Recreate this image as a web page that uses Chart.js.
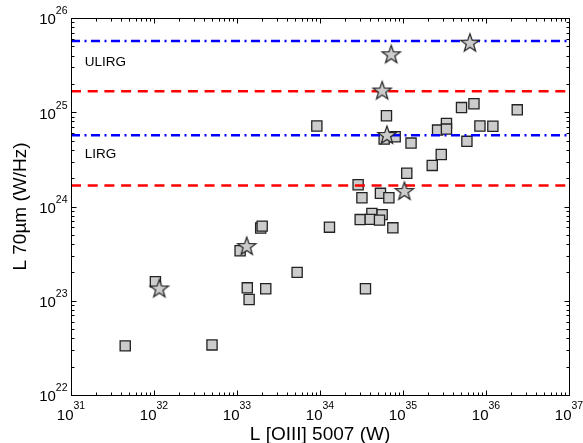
<!DOCTYPE html>
<html><head><meta charset="utf-8">
<script src="https://cdn.jsdelivr.net/npm/chart.js@4.4.1/dist/chart.umd.min.js"></script>
<style>html,body{margin:0;padding:0;background:#fff}#wrap{width:583px;height:443px;position:relative}</style>
</head><body><div id="wrap"><canvas id="c"></canvas></div>
<script>
// ---- data ----
const squareX = [4.5e31, 5.0e32, 1.04e32, 1.09e33, 1.93e33, 2.01e33, 1.33e33, 2.22e33, 1.40e33, 5.3e33,
                 1.30e34, 3.53e34, 2.88e34, 3.20e34, 5.35e34, 6.76e34, 4.22e34, 5.61e34, 3.05e34, 4.03e34,
                 5.21e34, 7.55e34, 1.11e35, 2.25e35, 2.89e35, 1.25e35, 9.16e33, 6.32e34, 8.05e34, 5.93e34,
                 5.07e35, 7.16e35, 2.38e36, 3.34e35, 2.61e35, 3.34e35, 8.45e35, 1.21e36, 5.89e35];
const squareY = [3.32e22, 3.40e22, 1.59e23, 3.39e23, 5.90e23, 6.19e23, 1.37e23, 1.34e23, 1.03e23, 2.00e23,
                 6.04e23, 1.34e23, 1.70e24, 1.24e24, 1.38e24, 1.24e24, 8.45e23, 8.20e23, 7.26e23, 7.30e23,
                 7.17e23, 5.94e23, 2.25e24, 2.73e24, 3.56e24, 4.71e24, 7.14e24, 9.18e24, 5.50e24, 5.19e24,
                 1.12e25, 1.23e25, 1.06e25, 7.62e24, 6.47e24, 6.63e24, 7.14e24, 7.10e24, 4.91e24];
const starX = [1.16e32, 1.31e33, 1.04e35, 6.40e34, 5.61e34, 7.21e34, 6.40e35];
const starY = [1.35e23, 3.80e23, 1.46e24, 5.73e24, 1.70e25, 4.12e25, 5.47e25];
const blueLevels = [5.7e24, 5.7e25];   // LIRG, ULIRG
const redLevels = [1.67e24, 1.67e25];
const levelLabels = ['LIRG', 'ULIRG'];
const xTickExps = [31, 32, 33, 34, 35, 36, 37];
const yTickExps = [22, 23, 24, 25, 26];
const xTitle = 'L [OIII] 5007 (W)';
const yTitle = 'L 70\u00B5m (W/Hz)';

const xMin = 10 ** xTickExps[0], xMax = 10 ** xTickExps[xTickExps.length - 1];
const yMin = 10 ** yTickExps[0], yMax = 10 ** yTickExps[yTickExps.length - 1];

// star marker image
function makeStar() {
  const c = document.createElement('canvas');
  c.width = 24; c.height = 24;
  const g = c.getContext('2d');
  const R = 9.6, r = R * 0.40, cx = 12, cy = 12.6;
  g.beginPath();
  for (let i = 0; i < 10; i++) {
    const ang = -Math.PI / 2 + i * Math.PI / 5;
    const rr = i % 2 === 0 ? R : r;
    const px = cx + rr * Math.cos(ang), py = cy + rr * Math.sin(ang);
    if (i === 0) g.moveTo(px, py); else g.lineTo(px, py);
  }
  g.closePath();
  g.fillStyle = '#cccccc'; g.fill();
  g.lineWidth = 1.2; g.strokeStyle = '#222'; g.lineJoin = 'miter'; g.stroke();
  return c;
}
const starImg = makeStar();

const pts = (xs, ys) => xs.map((x, i) => ({ x, y: ys[i] }));
const hline = v => [{ x: xMin, y: v }, { x: xMax, y: v }];

const datasets = [
  { label: 'stars', data: pts(starX, starY), pointStyle: starImg, pointRadius: 9, order: 0, showLine: false },
  ...blueLevels.map(v => ({ label: 'blue', data: hline(v), showLine: true, borderColor: '#0000ff', borderWidth: 2.6,
      borderDash: [9, 4.5, 2, 4.5], pointRadius: 0, order: 1, fill: false })),
  ...redLevels.map(v => ({ label: 'red', data: hline(v), showLine: true, borderColor: '#ff0000', borderWidth: 2.6,
      borderDash: [10, 6.7], pointRadius: 0, order: 1, fill: false })),
  { label: 'squares', data: pts(squareX, squareY), pointStyle: 'rect', pointRadius: 7.2, borderWidth: 1.3,
    backgroundColor: '#cccccc', borderColor: '#222', order: 2, showLine: false }
];

const decor = {
  id: 'decor',
  afterDraw(chart) {
    const ctx = chart.ctx, a = chart.chartArea, xs = chart.scales.x, ys = chart.scales.y;
    const F = 'Liberation Sans, Arial, sans-serif';
    ctx.save();
    ctx.strokeStyle = '#000'; ctx.lineWidth = 1;
    ctx.beginPath();
    const L = Math.round(a.left) + 0.5, R = Math.round(a.right) + 0.5, T = Math.round(a.top) + 0.5, B = Math.round(a.bottom) + 0.5;
    for (let k = 0; k < xTickExps.length; k++) {
      const e = xTickExps[k];
      for (let m = 1; m <= 9; m++) {
        if (k === xTickExps.length - 1 && m > 1) break;
        const px = Math.round(xs.getPixelForValue(m * 10 ** e)) + 0.5;
        const len = m === 1 ? 5 : 3;
        ctx.moveTo(px, B); ctx.lineTo(px, B - len);
        ctx.moveTo(px, T); ctx.lineTo(px, T + len);
      }
    }
    for (let k = 0; k < yTickExps.length; k++) {
      const e = yTickExps[k];
      for (let m = 1; m <= 9; m++) {
        if (k === yTickExps.length - 1 && m > 1) break;
        const py = Math.round(ys.getPixelForValue(m * 10 ** e)) + 0.5;
        const len = m === 1 ? 5 : 3;
        ctx.moveTo(L, py); ctx.lineTo(L + len, py);
        ctx.moveTo(R, py); ctx.lineTo(R - len, py);
      }
    }
    ctx.stroke();
    ctx.strokeRect(L, T, R - L, B - T);

    // tick labels
    ctx.fillStyle = '#000';
    const bigF = '15px ' + F, supF = '10.5px ' + F;
    for (const e of xTickExps) {
      const px = xs.getPixelForValue(10 ** e);
      ctx.font = bigF; const w1 = ctx.measureText('10').width;
      ctx.font = supF; const w2 = ctx.measureText(String(e)).width;
      const x0 = px - (w1 + w2) / 2;
      ctx.textAlign = 'left'; ctx.textBaseline = 'alphabetic';
      ctx.font = bigF; ctx.fillText('10', x0, a.bottom + 25);
      ctx.font = supF; ctx.fillText(String(e), x0 + w1, a.bottom + 13.5);
    }
    for (const e of yTickExps) {
      const py = ys.getPixelForValue(10 ** e);
      ctx.font = bigF; const w1 = ctx.measureText('10').width;
      ctx.font = supF; const w2 = ctx.measureText(String(e)).width;
      const x0 = a.left - 3.5 - (w1 + w2);
      ctx.textAlign = 'left'; ctx.textBaseline = 'alphabetic';
      ctx.font = bigF; ctx.fillText('10', x0, py + 6.3);
      ctx.font = supF; ctx.fillText(String(e), x0 + w1, py - 3.7);
    }
    // axis titles
    ctx.font = '19px ' + F;
    ctx.textAlign = 'center';
    ctx.fillText(xTitle, (a.left + a.right) / 2, a.bottom + 44.5);
    ctx.save();
    ctx.translate(25.5, (a.top + a.bottom) / 2);
    ctx.rotate(-Math.PI / 2);
    ctx.fillText(yTitle, 0, 0);
    ctx.restore();
    // level labels
    ctx.font = '13.5px ' + F;
    ctx.textAlign = 'left';
    const lx = xs.getPixelForValue(10 ** (xTickExps[0] + 0.165));
    blueLevels.forEach((v, i) => {
      ctx.fillText(levelLabels[i], lx, ys.getPixelForValue(v) + (i === 1 ? 25.3 : 23.2));
    });
    ctx.restore();
  }
};

new Chart(document.getElementById('c'), {
  type: 'scatter',
  data: { datasets },
  options: {
    responsive: true, maintainAspectRatio: false, animation: false,
    layout: { padding: { left: 71, right: 14, top: 18, bottom: 48 } },
    plugins: { legend: { display: false }, tooltip: { enabled: false } },
    scales: {
      x: { type: 'logarithmic', min: xMin, max: xMax, display: false },
      y: { type: 'logarithmic', min: yMin, max: yMax, display: false }
    }
  },
  plugins: [decor]
});
</script></body></html>
